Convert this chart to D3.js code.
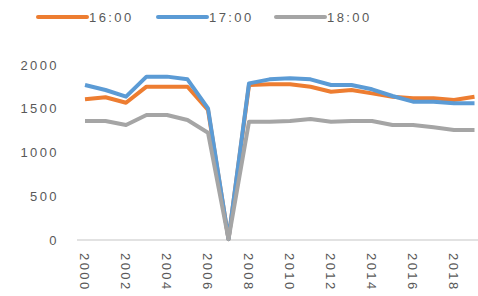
<!DOCTYPE html>
<html>
<head>
<meta charset="UTF-8">
<script src="https://d3js.org/d3.v7.min.js"></script>
<style>
  body { margin: 0; background: #fff; }
  svg { display: block; }
  text { font-family: Arial, "Liberation Sans", sans-serif; fill: #595959; }
</style>
</head>
<body>
<svg width="478" height="296"></svg>
<script>
const years = d3.range(2000, 2020);
const s1600 = [1608, 1631, 1569, 1752, 1752, 1752, 1486, 10, 1770, 1779, 1779, 1752, 1695, 1714, 1676, 1638, 1619, 1619, 1600, 1638];
const s1700 = [1771, 1714, 1638, 1867, 1867, 1836, 1505, 10, 1790, 1836, 1848, 1836, 1771, 1771, 1722, 1646, 1581, 1581, 1562, 1562];
const s1800 = [1360, 1360, 1314, 1429, 1429, 1371, 1226, 10, 1352, 1352, 1360, 1383, 1352, 1360, 1360, 1314, 1314, 1288, 1257, 1257];
const yTicks = [0, 500, 1000, 1500, 2000];
const xTicks = d3.range(2000, 2020, 2);

const series = [
  { name: "16:00", values: s1600, color: "#ED7D31" },
  { name: "17:00", values: s1700, color: "#5B9BD5" },
  { name: "18:00", values: s1800, color: "#A5A5A5" }
];

const svg = d3.select("svg");

const x = d3.scaleBand().domain(years).range([74.75, 484.75]);
const y = d3.scaleLinear().domain([0, 2000]).range([240, 65]);
const cx = d => x(d) + x.bandwidth() / 2;

// y labels
svg.append("g").selectAll("text")
  .data(yTicks)
  .join("text")
  .attr("x", 59)
  .attr("y", d => y(d))
  .attr("dy", "0.35em")
  .attr("text-anchor", "end")
  .style("font-size", "13px")
  .style("letter-spacing", "2.4px")
  .text(d => d);

// x axis line
svg.append("line")
  .attr("x1", 77).attr("x2", 478)
  .attr("y1", y(0)).attr("y2", y(0))
  .attr("stroke", "#D9D9D9").attr("stroke-width", 1.5);

// x labels, rotated
svg.append("g").selectAll("text")
  .data(xTicks)
  .join("text")
  .attr("transform", d => `translate(${cx(d)},253) rotate(90)`)
  .attr("dy", "0.35em")
  .style("font-size", "13px")
  .style("letter-spacing", "2.4px")
  .text(d => d);

const line = d3.line()
  .x((d, i) => cx(years[i]))
  .y(d => y(d));

svg.append("g").selectAll("path")
  .data(series)
  .join("path")
  .attr("d", d => line(d.values))
  .attr("fill", "none")
  .attr("stroke", d => d.color)
  .attr("stroke-width", 4)
  .attr("stroke-linejoin", "round");

// legend
const legendX = [38, 158, 276];
const lg = svg.append("g").selectAll("g")
  .data(series)
  .join("g")
  .attr("transform", (d, i) => `translate(${legendX[i]},17)`);
lg.append("line")
  .attr("x1", 0).attr("x2", 49)
  .attr("stroke", d => d.color)
  .attr("stroke-width", 4)
  .attr("stroke-linecap", "round");
lg.append("text")
  .attr("x", 51)
  .attr("dy", "0.35em")
  .style("font-size", "13px")
  .style("letter-spacing", "2.4px")
  .text(d => d.name);
</script>
</body>
</html>
